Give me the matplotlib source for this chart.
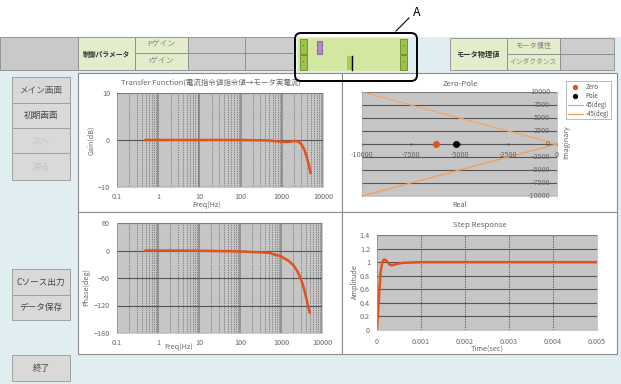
import matplotlib
matplotlib.use('Agg')
import matplotlib.pyplot as plt
from matplotlib.patches import Rectangle, FancyBboxPatch

plt.rcParams['font.family'] = ['Noto Sans CJK JP', 'DejaVu Sans']

W, H = 621, 384

# --- data ---
freq_hz = [0.5, 1, 10, 100, 500, 1000, 1500, 2000, 2500, 3000, 3500, 4000, 4500, 5000]
gain_db = [0, 0, 0, 0, -0.1, -0.4, -0.4, -0.2, -0.3, -0.9, -2.0, -3.5, -5.2, -7.0]
phase_deg = [0, 0, -0.5, -2, -5, -13, -22, -32, -45, -60, -78, -98, -118, -135]

bode_xticks = [0.1, 1, 10, 100, 1000, 10000]
bode_xlabels = ['0.1', '1', '10', '100', '1000', '10000']
gain_yticks = [10, 0, -10]
phase_yticks = [60, 0, -60, -120, -180]

zero_real = [-6200]
pole_real = [-5200]
line45_x = [-10000, 0]
line45_y = [10000, 0]
line_m45_y = [-10000, 0]
zp_xticks = [-10000, -7500, -5000, -2500, 0]
zp_yticks = [10000, 7500, 5000, 2500, 0, -2500, -5000, -7500, -10000]

step_t = [0, 0.00004, 0.00008, 0.00012, 0.00016, 0.0002, 0.00025, 0.0003,
          0.00035, 0.0004, 0.0005, 0.0006, 0.0008, 0.001, 0.002, 0.003, 0.004, 0.005]
step_y = [0, 0.45, 0.85, 1.0, 1.04, 1.03, 0.99, 0.96, 0.955, 0.965, 0.98, 0.99,
          0.995, 1.0, 1.0, 1.0, 1.0, 1.0]
step_xticks = [0, 0.001, 0.002, 0.003, 0.004, 0.005]
step_yticks = [0, 0.2, 0.4, 0.6, 0.8, 1.0, 1.2, 1.4]

left_buttons = [('メイン画面', 77, 103, '#555555'), ('初期画面', 103, 128, '#444444'),
                ('次へ', 128, 153, '#c4c4c4'), ('戻る', 153, 180, '#c4c4c4'),
                ('Cソース出力', 269, 295, '#444444'), ('データ保存', 295, 320, '#444444'),
                ('終了', 355, 381, '#444444')]

CURVE = '#e2521d'
PLOT_BG = '#c6c6c6'
TXT = '#666666'
FS = 5.2

fig = plt.figure(figsize=(W / 100, H / 100), dpi=100)
fig.patch.set_facecolor('#e0eef1')

bg = fig.add_axes([0, 0, 1, 1])
bg.set_xlim(0, W)
bg.set_ylim(H, 0)
bg.axis('off')


def rect(x0, y0, x1, y1, fc, ec='#8a8a8a', lw=0.6, z=1):
    bg.add_patch(Rectangle((x0, y0), x1 - x0, y1 - y0, facecolor=fc,
                           edgecolor=ec, linewidth=lw, zorder=z))


def px_axes(x0, y0, x1, y1):
    return fig.add_axes([x0 / W, 1 - y1 / H, (x1 - x0) / W, (y1 - y0) / H])


# white strip at the top
rect(0, 0, W, 37, '#ffffff', ec='none', lw=0)

# top parameter table
GREEN = '#e3edcc'
rect(0, 37, 78, 70, '#c9c9c9')
rect(78, 37, 135, 70, GREEN)
bg.text(106, 54, '制御パラメータ', fontsize=4.9, ha='center', va='center',
        color='#333333', fontweight='bold')
rect(135, 37, 188, 53, GREEN)
rect(135, 53, 188, 70, GREEN)
bg.text(161, 45, 'Pゲイン', fontsize=5.6, ha='center', va='center', color='#888888')
bg.text(161, 62, 'Iゲイン', fontsize=5.6, ha='center', va='center', color='#888888')
for x0, x1 in [(188, 245), (245, 294)]:
    rect(x0, 37, x1, 53, '#cdcdcd')
    rect(x0, 53, x1, 70, '#cdcdcd')

# slider block
rect(298, 38, 408, 71, '#d3e6a2', ec='none', lw=0)
for y0, y1 in [(39, 54), (55, 70)]:
    rect(300, y0, 307, y1, '#9cc24a', ec='#5a7a20', lw=0.5, z=2)
    rect(400, y0, 407, y1, '#9cc24a', ec='#5a7a20', lw=0.5, z=2)
    bg.text(303.5, (y0 + y1) / 2, '•', fontsize=2.5,
            ha='center', va='center', color='#203010', zorder=3)
    bg.text(403.5, (y0 + y1) / 2, '•', fontsize=2.5,
            ha='center', va='center', color='#203010', zorder=3)
rect(317, 41, 322, 54, '#b487c8', ec='#7a4a90', lw=0.5, z=2)
rect(347, 56, 352, 70, '#a9cc55', ec='none', lw=0, z=2)
bg.plot([352, 352], [56, 70], color='black', lw=1.0, zorder=3)

bg.add_patch(FancyBboxPatch((295, 33), 122, 48, boxstyle='round,pad=0,rounding_size=6',
                            facecolor='none', edgecolor='black', linewidth=1.4, zorder=5))
bg.plot([396, 409], [31, 18], color='black', lw=0.8)
bg.text(417, 12, 'A', fontsize=9, ha='center', va='center', color='black')

# right table
rect(450, 38, 507, 70, GREEN)
bg.text(478, 54, 'モータ物理値', fontsize=5.2, ha='center', va='center',
        color='#333333', fontweight='bold')
rect(507, 38, 560, 54, GREEN)
rect(507, 54, 560, 70, GREEN)
bg.text(533, 46, 'モータ慣性', fontsize=5.2, ha='center', va='center', color='#888888')
bg.text(533, 62, 'インダクタンス', fontsize=4.9, ha='center', va='center', color='#888888')
rect(560, 38, 614, 54, '#cdcdcd')
rect(560, 54, 614, 70, '#cdcdcd')

# left buttons
for label, y0, y1, col in left_buttons:
    rect(12, y0, 70, y1, '#d9d9d9', ec='#a0a0a0', lw=0.7)
    bg.text(41, (y0 + y1) / 2, label, fontsize=6.2, ha='center', va='center', color=col)

# chart panels
for x0, y0, x1, y1 in [(78, 73, 342, 212), (342, 73, 617, 212),
                       (78, 212, 342, 354), (342, 212, 617, 354)]:
    rect(x0, y0, x1, y1, '#ffffff', ec='#8c8c8c', lw=0.8)


def style_axes(ax):
    ax.set_facecolor(PLOT_BG)
    for s in ax.spines.values():
        s.set_color('#a0a0a0')
        s.set_linewidth(0.4)
    ax.tick_params(length=0, labelsize=FS, labelcolor=TXT)
    ax.set_axisbelow(True)


def bode_axes(ax, yticks, ylim):
    style_axes(ax)
    ax.set_xscale('log')
    ax.set_xlim(0.1, 10000)
    ax.set_ylim(*ylim)
    ax.set_xticks(bode_xticks)
    ax.set_xticklabels(bode_xlabels)
    ax.set_yticks(yticks)
    ax.grid(which='minor', axis='x', linestyle=(0, (1, 1.5)), color='#444444', lw=0.5)
    ax.grid(which='major', axis='x', color='#8a8a8a', lw=1.2)
    ax.grid(which='major', axis='y', color='#555555', lw=0.8)
    ax.tick_params(which='minor', length=0)
    ax.tick_params(axis='x', pad=4)
    ax.tick_params(axis='y', pad=5)


# gain
ax1 = px_axes(117, 93, 323, 187)
bode_axes(ax1, gain_yticks, (-10, 10))
ax1.plot(freq_hz, gain_db, color=CURVE, lw=1.8)
bg.text(211, 83, 'Transfer Function(電流指令値指令値→モータ実電流)', fontsize=5.4,
        ha='center', va='center', color=TXT)
bg.text(207, 205, 'Freq(Hz)', fontsize=FS, ha='center', va='center', color=TXT)
bg.text(91, 140, 'Gain(dB)', fontsize=FS, ha='center', va='center', color=TXT, rotation=90)

# phase
ax2 = px_axes(117, 223, 322, 333)
bode_axes(ax2, phase_yticks, (-180, 60))
ax2.plot(freq_hz, phase_deg, color=CURVE, lw=1.8)
bg.text(179, 347, 'Freq(Hz)', fontsize=FS, ha='center', va='center', color=TXT)
bg.text(86, 287, 'Phase(deg)', fontsize=FS, ha='center', va='center', color=TXT, rotation=90)

# zero-pole
ax3 = px_axes(362, 92, 557, 196)
style_axes(ax3)
ax3.set_xlim(-10000, 0)
ax3.set_ylim(-10000, 10000)
ax3.set_xticks([])
ax3.set_yticks(zp_yticks)
ax3.set_yticklabels([])
ax3.grid(axis='y', color='#555555', lw=0.8)
for v in zp_yticks:
    ax3.text(-360, v, str(v), fontsize=FS, ha='right', va='center', color=TXT)
for v in zp_xticks:
    ax3.text(v, -2100, str(v), fontsize=FS, ha='center', va='center', color=TXT)
ax3.plot(zp_xticks, [0] * len(zp_xticks), ls='none', marker='|', ms=2, color='#444444')
h45, = ax3.plot(line45_x, line45_y, color='#efa868', lw=0.9, label='45(deg)')
hm45, = ax3.plot(line45_x, line_m45_y, color='#f0a050', lw=0.9, label='-45(deg)')
hz, = ax3.plot(zero_real, [0], ls='none', marker='o', ms=4, color=CURVE, label='Zero')
hp, = ax3.plot(pole_real, [0], ls='none', marker='o', ms=4, color='black', label='Pole')
for a in (h45, hm45, hz, hp):
    a.set_clip_on(False)
leg = fig.legend(handles=[hz, hp, h45, hm45], loc='upper left',
                 bbox_to_anchor=(563 / W, 1 - 78 / H), fontsize=4.4, frameon=True,
                 fancybox=False, edgecolor='#888888', handlelength=2.4, borderpad=0.3,
                 labelspacing=0.15, handletextpad=0.5, markerscale=0.7)
leg.get_frame().set_linewidth(0.5)
for t in leg.get_texts():
    t.set_color('#555555')
bg.text(460, 84, 'Zero-Pole', fontsize=5.6, ha='center', va='center', color=TXT)
bg.text(460, 205, 'Real', fontsize=FS, ha='center', va='center', color=TXT)
bg.text(566, 142, 'Imaginary', fontsize=FS, ha='center', va='center', color=TXT, rotation=90)

# step response
ax4 = px_axes(377, 235, 597, 330)
style_axes(ax4)
ax4.set_xlim(0, 0.005)
ax4.set_ylim(0, 1.4)
ax4.set_xticks(step_xticks)
ax4.set_xticklabels(['0' if v == 0 else f'{v:.3f}' for v in step_xticks])
ax4.set_yticks(step_yticks)
ax4.set_yticklabels([f'{v:g}' for v in step_yticks])
ax4.grid(axis='y', color='#555555', lw=0.8)
ax4.grid(axis='x', color='#444444', lw=0.6, linestyle=(0, (1.5, 1.5)))
ax4.tick_params(axis='x', pad=6)
ax4.tick_params(axis='y', pad=5)
ax4.plot(step_t, step_y, color=CURVE, lw=1.8)
bg.text(480, 225, 'Step Response', fontsize=5.6, ha='center', va='center', color=TXT)
bg.text(487, 348.5, 'Time(sec)', fontsize=FS, ha='center', va='center', color=TXT)
bg.text(355, 282, 'Amplitude', fontsize=FS, ha='center', va='center', color=TXT, rotation=90)

fig.savefig('out.png', dpi=100)
